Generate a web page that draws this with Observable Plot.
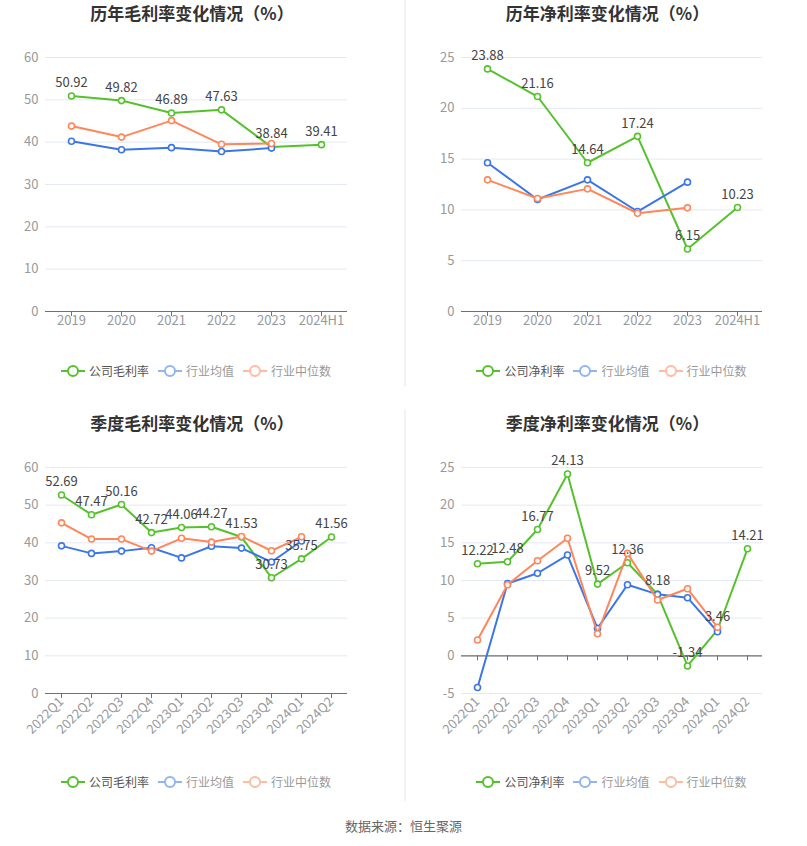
<!DOCTYPE html>
<html>
<head>
<meta charset="utf-8">
<script src="https://cdn.jsdelivr.net/npm/d3@7"></script>
<script src="https://cdn.jsdelivr.net/npm/@observablehq/plot@0.6"></script>
<style>
  html, body { margin: 0; padding: 0; background: #fff; }
  #root { position: relative; width: 807px; height: 846px; background: #fff; font-family: "Noto Sans CJK SC", "Noto Sans", sans-serif; overflow: hidden; }
  .title { position: absolute; text-align: center; font-size: 17px; font-weight: bold; color: #333; line-height: 22px; }
  .legend { position: absolute; display: flex; justify-content: center; align-items: center; gap: 9px; font-size: 12px; line-height: 16px; }
  .legend .item { display: flex; align-items: center; gap: 4px; }
  .panel { position: absolute; }
  .divider { position: absolute; left: 404px; width: 2px; background: #f2f2f2; }
  .caption { position: absolute; left: 0; width: 807px; top: 816px; text-align: center; font-size: 13px; color: #666; line-height: 20px; }
</style>
</head>
<body>
<div id="root"></div>
<script>
// ---------- data ----------
const years = ["2019", "2020", "2021", "2022", "2023", "2024H1"];
const grossCompany = [50.92, 49.82, 46.89, 47.63, 38.84, 39.41];
const grossMean = [40.2, 38.2, 38.7, 37.8, 38.6, null];
const grossMedian = [43.8, 41.2, 45.1, 39.5, 39.7, null];

const netCompany = [23.88, 21.16, 14.64, 17.24, 6.15, 10.23];
const netMean = [14.64, 11.02, 12.96, 9.84, 12.73, null];
const netMedian = [12.96, 11.12, 12.07, 9.67, 10.2, null];

const quarters = ["2022Q1", "2022Q2", "2022Q3", "2022Q4", "2023Q1", "2023Q2", "2023Q3", "2023Q4", "2024Q1", "2024Q2"];
const qGrossCompany = [52.69, 47.47, 50.16, 42.72, 44.06, 44.27, 41.53, 30.73, 35.75, 41.56];
const qGrossMean = [39.2, 37.2, 37.8, 38.7, 36.0, 39.1, 38.6, 34.9, 40.5, null];
const qGrossMedian = [45.3, 41.0, 41.0, 37.8, 41.2, 40.2, 41.7, 37.9, 41.6, null];

const qNetCompany = [12.22, 12.48, 16.77, 24.13, 9.52, 12.36, 8.18, -1.34, 3.46, 14.21];
const qNetMean = [-4.21, 9.6, 10.96, 13.38, 3.64, 9.43, 8.16, 7.72, 3.2, null];
const qNetMedian = [2.1, 9.43, 12.63, 15.6, 2.94, 13.6, 7.41, 8.9, 3.8, null];

const grossTicks = [0, 10, 20, 30, 40, 50, 60];
const netTicks = [0, 5, 10, 15, 20, 25];
const qNetTicks = [-5, 0, 5, 10, 15, 20, 25];

const seriesNamesGross = ["公司毛利率", "行业均值", "行业中位数"];
const seriesNamesNet = ["公司净利率", "行业均值", "行业中位数"];

// ---------- style ----------
const GREEN = "#55c22d";
const BLUE = "#3b76e6";
const ORANGE = "#ff8659";
const FONT = '"Noto Sans CJK SC", "Noto Sans", sans-serif';

const root = document.getElementById("root");

function toRows(cats, vals) {
  return cats.map((c, i) => ({c, v: vals[i]})).filter(d => d.v != null);
}

function legendIcon(color, opacity) {
  return `<svg width="24" height="14" style="opacity:${opacity}"><line x1="0" y1="7" x2="24" y2="7" stroke="${color}" stroke-width="2"/><circle cx="12" cy="7" r="5" fill="#fff" stroke="${color}" stroke-width="2"/></svg>`;
}

function makePanel(cfg) {
  const {cats, company, mean, median, domain, ticks, rotate, left, top, width, height, mt, mr, mb, ml, title, names, titleTop, legendTop} = cfg;
  const compRows = toRows(cats, company);
  const meanRows = toRows(cats, mean);
  const medRows = toRows(cats, median);

  const series = (rows, color) => [
    Plot.line(rows, {x: "c", y: "v", stroke: color, strokeWidth: 2}),
    Plot.dot(rows, {x: "c", y: "v", r: 3, fill: "#fff", stroke: color, strokeWidth: 1.6})
  ];

  const chart = Plot.plot({
    width, height,
    marginTop: mt, marginRight: mr, marginBottom: mb, marginLeft: ml,
    style: {fontFamily: FONT, fontSize: "12px", background: "transparent", overflow: "visible"},
    x: {type: "point", domain: cats, padding: 0.5, label: null},
    y: {domain, label: null},
    marks: [
      Plot.gridY(ticks, {stroke: "#e3e8f3", strokeOpacity: 1}),
      Plot.axisY(ticks, {tickSize: 0, tickPadding: 7, label: null, fill: "#999", tickFormat: d => String(d), fontSize: 13}),
      Plot.axisX({tickSize: 0, tickPadding: rotate ? 6 : 4, tickRotate: rotate ? -45 : 0, label: null, fill: "#999", fontSize: 13}),
      Plot.ruleY([0], {stroke: "#6e7079", strokeWidth: 1.2}),
      Plot.ruleX(cats, {x: d => d, y1: 0, y2: 0, insetBottom: -5, stroke: "#6e7079"}),
      ...series(compRows, GREEN),
      ...series(meanRows, BLUE),
      ...series(medRows, ORANGE),
      Plot.text(compRows, {x: "c", y: "v", text: d => d.v.toFixed(2), dy: -13, fill: "#444", fontSize: 13})
    ]
  });

  const wrap = document.createElement("div");
  wrap.className = "panel";
  wrap.style.left = left + "px";
  wrap.style.top = top + "px";
  wrap.appendChild(chart);
  root.appendChild(wrap);

  const plotCenter = left + ml + (width - ml - mr) / 2;
  const t = document.createElement("div");
  t.className = "title";
  t.textContent = title;
  t.style.left = (plotCenter - 200) + "px";
  t.style.width = "392px";
  t.style.top = titleTop + "px";
  root.appendChild(t);

  const lg = document.createElement("div");
  lg.className = "legend";
  lg.style.left = (plotCenter - 200) + "px";
  lg.style.width = "400px";
  lg.style.top = legendTop + "px";
  lg.innerHTML =
    `<div class="item">${legendIcon(GREEN, 1)}<span style="color:#555">${names[0]}</span></div>` +
    `<div class="item">${legendIcon(BLUE, 0.55)}<span style="color:#999">${names[1]}</span></div>` +
    `<div class="item">${legendIcon(ORANGE, 0.55)}<span style="color:#999">${names[2]}</span></div>`;
  root.appendChild(lg);
}

makePanel({cats: years, company: grossCompany, mean: grossMean, median: grossMedian,
  domain: [0, 60], ticks: grossTicks, rotate: false,
  left: 0, top: 30, width: 400, height: 320, mt: 27, mr: 53, mb: 39, ml: 45,
  title: "历年毛利率变化情况（%）", names: seriesNamesGross, titleTop: 2, legendTop: 363});

makePanel({cats: years, company: netCompany, mean: netMean, median: netMedian,
  domain: [0, 25], ticks: netTicks, rotate: false,
  left: 405, top: 30, width: 402, height: 320, mt: 27, mr: 45, mb: 39, ml: 56,
  title: "历年净利率变化情况（%）", names: seriesNamesNet, titleTop: 2, legendTop: 363});

makePanel({cats: quarters, company: qGrossCompany, mean: qGrossMean, median: qGrossMedian,
  domain: [0, 60], ticks: grossTicks, rotate: true,
  left: 0, top: 430, width: 400, height: 320, mt: 37, mr: 53, mb: 57, ml: 45,
  title: "季度毛利率变化情况（%）", names: seriesNamesGross, titleTop: 412, legendTop: 774});

makePanel({cats: quarters, company: qNetCompany, mean: qNetMean, median: qNetMedian,
  domain: [-5, 25], ticks: qNetTicks, rotate: true,
  left: 405, top: 430, width: 402, height: 320, mt: 37, mr: 45, mb: 57, ml: 56,
  title: "季度净利率变化情况（%）", names: seriesNamesNet, titleTop: 412, legendTop: 774});

const d1 = document.createElement("div");
d1.className = "divider"; d1.style.top = "0px"; d1.style.height = "386px";
root.appendChild(d1);
const d2 = document.createElement("div");
d2.className = "divider"; d2.style.top = "409px"; d2.style.height = "392px";
root.appendChild(d2);

const cap = document.createElement("div");
cap.className = "caption";
cap.textContent = "数据来源：恒生聚源";
root.appendChild(cap);
</script>
</body>
</html>
